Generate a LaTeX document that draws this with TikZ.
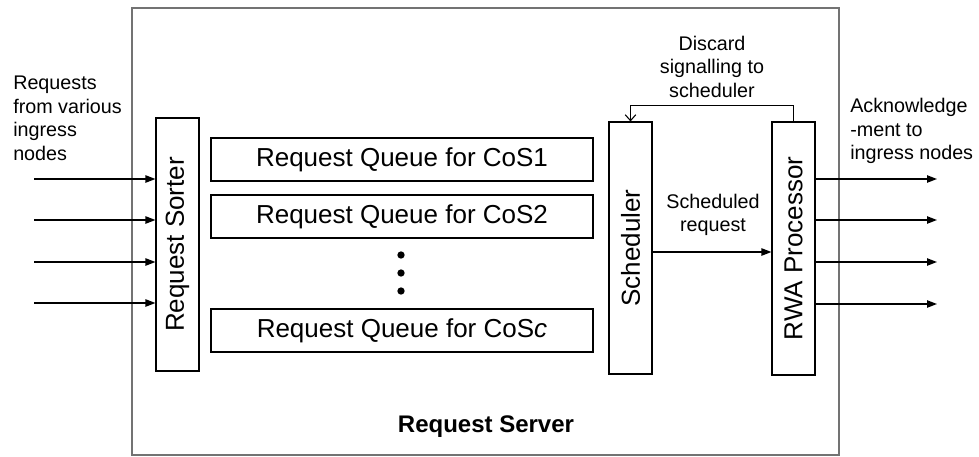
\documentclass[tikz,border=0pt]{standalone}
\usepackage{fontspec}
\setmainfont{Liberation Sans}
\usetikzlibrary{arrows.meta}
\begin{document}
\begin{tikzpicture}[x=0.75pt,y=-0.75pt,
  box/.style={draw=black,line width=0.8pt,inner sep=0pt,minimum width=32.25pt},
  qbox/.style={draw=black,line width=0.8pt,inner sep=0pt,minimum width=286.5pt,minimum height=32.25pt,
    font=\fontsize{19.5}{23}\selectfont},
  vtext/.style={rotate=90,font=\fontsize{19.5}{23}\selectfont},
  lbl/.style={inner sep=0pt,font=\fontsize{14.8}{17.6}\selectfont},
  flow/.style={line width=1pt,-{Triangle[length=7.5pt,width=5.5pt]}},
  dot/.style={circle,fill=black,inner sep=0pt,minimum size=5.5pt}]
\useasboundingbox (0,0) rectangle (979,457);

% the server frame
\node[draw=black!55,line width=1.5pt,minimum width=530.25pt,minimum height=335.25pt,inner sep=0pt]
  (server) at (485.5,231.5) {};
\node[font=\fontsize{18}{22}\selectfont\bfseries,inner sep=0pt] (title) at (486,427) {Request Server};

% processing blocks
\node[box,minimum height=189.75pt] (sorter) at (177.5,244.5) {};
\node[vtext] at (sorter.center) {Request Sorter};
\node[box,minimum height=189pt] (sched) at (630.5,248) {};
\node[vtext] at (sched.center) {Scheduler};
\node[box,minimum height=189.75pt] (rwa) at (793.5,248.5) {};
\node[vtext] at (rwa.center) {RWA Processor};

% class-of-service queues
\node[qbox] (q1) at (402,159.5) {Request Queue for CoS1};
\node[qbox] (q2) at (402,216.5) {Request Queue for CoS2};
\node[qbox] (qc) at (402,330.5) {Request Queue for CoS\textit{c}};
\node[dot] (d1) at (401,255) {};
\node[dot] (d2) at (401,273) {};
\node[dot] (d3) at (401,291) {};

% incoming requests
\node[lbl,align=left,anchor=west] (inlbl) at (13,118.5) {Requests\\from various\\ingress\\nodes};
\foreach \i/\y in {1/179,2/220,3/262,4/303}{
  \coordinate (in\i) at (34,\y);
  \draw[flow] (in\i) -- (in\i -| sorter.west);
}

% acknowledgements out
\node[lbl,align=left,anchor=west] (outlbl) at (850,131) {Acknowledge\\-ment to\\ingress nodes};
\foreach \i/\y in {1/179,2/220,3/262,4/304}{
  \coordinate (out\i) at (937,\y);
  \draw[flow] (out\i -| rwa.east) -- (out\i);
}

% scheduler to RWA processor
\coordinate (sr) at (700,252);
\draw[flow] (sr -| sched.east) -- (sr -| rwa.west);
\node[lbl,align=center] (srlbl) at (713,215) {Scheduled\\request};

% discard feedback
\draw[line width=0.8pt,-{Straight Barb[length=4.5pt,width=8pt]}]
  (rwa.north) -- ++(0,-16) -| (sched.north);
\node[lbl,align=center] (dslbl) at (712,66.5) {Discard\\signalling to\\scheduler};
\end{tikzpicture}
\end{document}
